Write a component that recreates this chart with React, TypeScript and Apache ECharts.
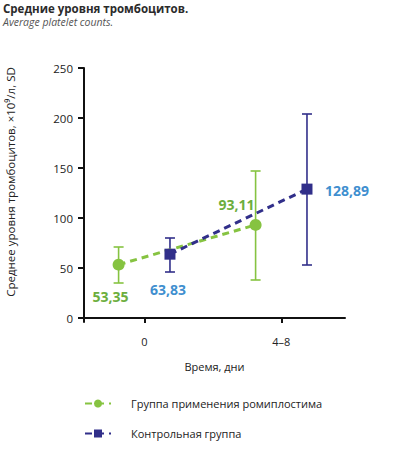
import React, { useEffect, useRef } from "react";
import * as echarts from "echarts";

const timeLabels = ["0", "4–8"];
const timePositions = [1, 3];
const groupNames = ["Группа применения ромиплостима", "Контрольная группа"];
const romiMeans = [53.35, 93.11];
const romiLow = [35, 38];
const romiHigh = [71, 147];
const ctrlMeans = [63.83, 128.89];
const ctrlLow = [46, 53];
const ctrlHigh = [80, 204];
const yTicks = [0, 50, 100, 150, 200, 250];

const GREEN = "#86c341";
const NAVY = "#312f8a";
const GREEN_TXT = "#6cae3d";
const BLUE_TXT = "#3f8fcf";
const FONT = "'Open Sans', 'Noto Sans', sans-serif";

const OFF = 0.375;

export default function App() {
  const ref = useRef<HTMLDivElement>(null);
  useEffect(() => {
    if (!ref.current) return;
    document.body.style.margin = "0";
    const chart = echarts.init(ref.current, undefined, { renderer: "svg" });

    const romiPts = romiMeans.map((v, i) => [timePositions[i] - OFF, v]);
    const ctrlPts = ctrlMeans.map((v, i) => [timePositions[i] + OFF, v]);
    const errData = [
      ...romiMeans.map((_, i) => [timePositions[i] - OFF, romiLow[i], romiHigh[i], 0]),
      ...ctrlMeans.map((_, i) => [timePositions[i] + OFF, ctrlLow[i], ctrlHigh[i], 1]),
    ];
    const labelOffsets = {
      romi: [[-8, 32], [-19, -20]],
      ctrl: [[-2, 35], [40, 1]],
    };
    const lbl = (color: string, off: number[]) => ({
      show: true,
      position: "inside",
      offset: off,
      color,
      fontFamily: FONT,
      fontWeight: "bold",
      fontSize: 14,
      formatter: (p: any) => String(p.value[1]).replace(".", ","),
    });

    chart.setOption({
      animation: false,
      textStyle: { fontFamily: FONT },
      grid: { left: 84, right: 52, top: 68, bottom: 132 },
      title: [
        {
          text: "Средние уровня тромбоцитов.",
          left: 3,
          top: 2,
          padding: 0,
          textStyle: { fontSize: 11.5, fontWeight: "bold", color: "#2b2b2b", fontFamily: FONT },
        },
        {
          text: "Average platelet counts.",
          left: 3,
          top: 16,
          padding: 0,
          textStyle: { fontSize: 10.5, fontStyle: "italic", fontWeight: "normal", color: "#555", fontFamily: FONT },
        },
      ],
      xAxis: {
        type: "value",
        min: 0.12,
        max: 3.93,
        name: "Время, дни",
        nameLocation: "middle",
        nameGap: 39,
        nameTextStyle: { fontSize: 11, color: "#222", fontFamily: FONT },
        splitLine: { show: false },
        axisLine: { lineStyle: { color: "#111", width: 2 } },
        axisTick: { show: true, length: 5, lineStyle: { color: "#111", width: 2 }, customValues: timePositions },
        axisLabel: {
          customValues: timePositions,
          margin: 14,
          fontSize: 11,
          color: "#222",
          formatter: (v: number) => {
            const i = timePositions.indexOf(v);
            return i >= 0 ? timeLabels[i] : "";
          },
        },
      },
      yAxis: {
        type: "value",
        min: -4,
        max: 250,
        splitLine: { show: false },
        axisLine: { show: true, lineStyle: { color: "#111", width: 2 } },
        axisTick: { show: true, length: 6, lineStyle: { color: "#111", width: 2 }, customValues: yTicks },
        axisLabel: { customValues: yTicks, margin: 11, fontSize: 11.5, color: "#222" },
      },
      legend: {
        orient: "vertical",
        left: 84,
        top: 398,
        padding: 0,
        itemWidth: 26,
        itemHeight: 10,
        itemGap: 19,
        data: groupNames,
        textStyle: { fontSize: 11, color: "#222", fontFamily: FONT, padding: [0, 0, 0, 15] },
      },
      graphic: [
        {
          type: "text",
          x: 10,
          y: 182,
          rotation: Math.PI / 2,
          style: {
            text: "Среднее уровня тромбоцитов, ×10⁹/л, SD",
            fontSize: 11.5,
            fontFamily: FONT,
            fill: "#222",
            align: "center",
            verticalAlign: "middle",
          },
        },
      ],
      series: [
        {
          type: "custom",
          name: "err",
          data: errData,
          z: 1,
          renderItem: (params: any, api: any) => {
            const x = api.value(0);
            const lo = api.coord([x, api.value(1)]);
            const hi = api.coord([x, api.value(2)]);
            const color = api.value(3) === 0 ? GREEN : NAVY;
            const w = 5;
            const style = { stroke: color, lineWidth: 1.6 };
            return {
              type: "group",
              children: [
                { type: "line", shape: { x1: lo[0], y1: lo[1], x2: hi[0], y2: hi[1] }, style },
                { type: "line", shape: { x1: lo[0] - w, y1: lo[1], x2: lo[0] + w, y2: lo[1] }, style },
                { type: "line", shape: { x1: hi[0] - w, y1: hi[1], x2: hi[0] + w, y2: hi[1] }, style },
              ],
            };
          },
        },
        {
          type: "line",
          name: groupNames[0],
          data: romiPts.map((p, i) => ({ value: p, label: lbl(GREEN_TXT, labelOffsets.romi[i]) })),
          symbol: "circle",
          symbolSize: 12,
          z: 3,
          itemStyle: { color: GREEN },
          lineStyle: { color: GREEN, width: 3, type: [7, 5] },
        },
        {
          type: "line",
          name: groupNames[1],
          data: ctrlPts.map((p, i) => ({ value: p, label: lbl(BLUE_TXT, labelOffsets.ctrl[i]) })),
          symbol: "rect",
          symbolSize: 11,
          z: 3,
          itemStyle: { color: NAVY },
          lineStyle: { color: NAVY, width: 3, type: [7, 5] },
        },
      ],
    });
    return () => chart.dispose();
  }, []);
  return <div ref={ref} style={{ width: 397, height: 454 }} />;
}
